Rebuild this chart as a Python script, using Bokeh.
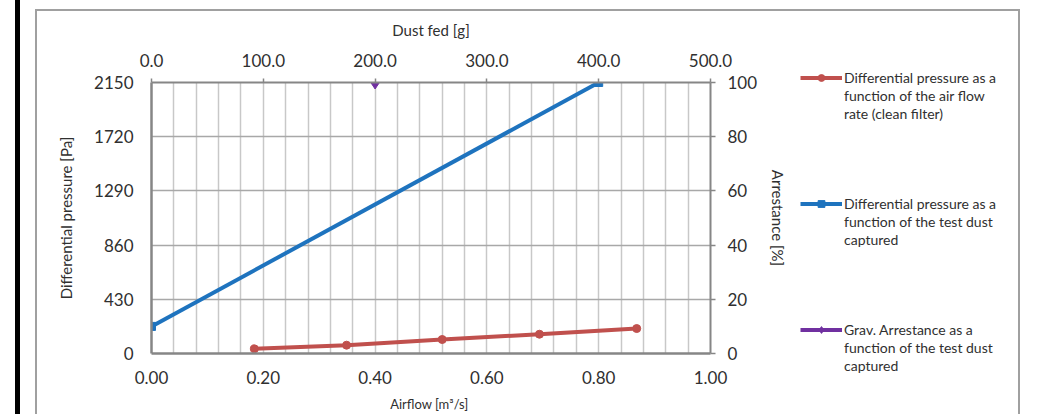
from bokeh.plotting import figure
from bokeh.layouts import row
from bokeh.models import (Range1d, LinearAxis, FixedTicker, NumeralTickFormatter,
                          Legend, LegendItem)
from bokeh.embed import file_html
from bokeh.resources import INLINE

# ---- data ----
airflow = [0.184, 0.349, 0.520, 0.694, 0.868]
dp_clean = [37, 66, 111, 153, 198]
dust_fed = [0, 400]
dp_dust = [215, 2150]
grav_dust = [200]
grav_arrestance = [100]

left_ticks = [0, 430, 860, 1290, 1720, 2150]
bottom_ticks = [0.0, 0.2, 0.4, 0.6, 0.8, 1.0]
top_ticks = [0, 100, 200, 300, 400, 500]
right_ticks = [0, 20, 40, 60, 80, 100]
vgrid_ticks = [0.04, 0.08, 0.12, 0.16, 0.20, 0.24, 0.28, 0.32, 0.36, 0.40, 0.44, 0.48,
               0.52, 0.56, 0.60, 0.64, 0.68, 0.72, 0.76, 0.80, 0.84, 0.88, 0.92, 0.96]

legend_lines = [
    ["Differential pressure as a", "function of the air flow", "rate (clean filter)"],
    ["Differential pressure as a", "function of the test dust", "captured"],
    ["Grav. Arrestance as a", "function of the test dust", "captured"],
]

RED = "#C0504D"
BLUE = "#1E73BE"
PURPLE = "#7030A0"
FONT = "Lato"
TXT = "#303030"
AX = "#868686"
FRAME = "#A0A0A0"

W1, W2, H = 790, 262, 414

p = figure(width=W1, height=H, output_backend="svg", toolbar_location=None,
           x_range=Range1d(0, 1), y_range=Range1d(0, 2150),
           min_border_left=151, min_border_right=W1 - 710, min_border_top=82,
           min_border_bottom=H - 354)
p.extra_x_ranges = {"dust": Range1d(0, 500)}
p.extra_y_ranges = {"arr": Range1d(0, 100)}
p.outline_line_color = None
p.background_fill_color = "white"
p.border_fill_alpha = 0
p.styles = {
    "background": (
        "linear-gradient(#000,#000) 15px 0px / 5px 100% no-repeat,"
        f"linear-gradient({FRAME},{FRAME}) 35px 9px / 2px 100% no-repeat,"
        f"linear-gradient({FRAME},{FRAME}) 35px 9px / 100% 2px no-repeat,"
        "#ffffff"
    )
}

def style_axis(ax, tick_out, title, title_size, title_standoff):
    ax.axis_line_color = AX
    ax.axis_line_width = 2.5
    ax.major_tick_in = 0
    ax.major_tick_out = tick_out
    ax.major_tick_line_color = AX
    ax.major_tick_line_width = 1.5
    ax.minor_tick_line_color = None
    ax.major_label_text_font = FONT
    ax.major_label_text_font_size = "17px"
    ax.major_label_text_color = TXT
    ax.axis_label = title
    ax.axis_label_text_font = FONT
    ax.axis_label_text_font_size = title_size
    ax.axis_label_text_font_style = "normal"
    ax.axis_label_text_color = TXT
    ax.axis_label_standoff = title_standoff

xb = p.xaxis[0]
xb.ticker = FixedTicker(ticks=bottom_ticks)
xb.formatter = NumeralTickFormatter(format="0.00")
style_axis(xb, 0, "Airflow  [m³/s]", "13px", 9)
xb.major_label_standoff = 17

yl = p.yaxis[0]
yl.ticker = FixedTicker(ticks=left_ticks)
style_axis(yl, 0, "Differential pressure [Pa]", "15px", 16)
yl.major_label_standoff = 18

xt = LinearAxis(x_range_name="dust", ticker=FixedTicker(ticks=top_ticks),
                formatter=NumeralTickFormatter(format="0.0"))
style_axis(xt, 4, "Dust fed [g]", "15px", 12)
xt.major_label_standoff = 12
xt.axis_line_width = 2
p.add_layout(xt, "above")

yr = LinearAxis(y_range_name="arr", ticker=FixedTicker(ticks=right_ticks))
style_axis(yr, 5, "Arrestance [%]", "15px", 9)
yr.major_label_standoff = 12
yr.axis_line_width = 2
p.add_layout(yr, "right")

p.xgrid.ticker = FixedTicker(ticks=vgrid_ticks)
p.xgrid.grid_line_color = "#C8C8C8"
p.xgrid.grid_line_width = 1.5
p.ygrid.ticker = FixedTicker(ticks=left_ticks[1:])
p.ygrid.grid_line_color = "#A8A8A8"
p.ygrid.grid_line_width = 1.5

p.line(airflow, dp_clean, line_color=RED, line_width=4)
p.scatter(airflow, dp_clean, marker="circle", size=8, color=RED)
p.line(dust_fed, dp_dust, x_range_name="dust", line_color=BLUE, line_width=4)
p.scatter(dust_fed, dp_dust, x_range_name="dust", marker="square", size=8, color=BLUE)
p.scatter(grav_dust, grav_arrestance, x_range_name="dust", y_range_name="arr",
          marker="diamond", size=13, color=PURPLE)

# ---- legend panel (second figure; its series lie outside its own ranges) ----
q = figure(width=W2, height=H, output_backend="svg", toolbar_location=None,
           x_range=Range1d(0, 1), y_range=Range1d(-1, 0),
           min_border=0, x_axis_location=None, y_axis_location=None)
q.grid.visible = False
q.outline_line_color = None
q.background_fill_alpha = 0
q.border_fill_alpha = 0
q.styles = {
    "background": (
        f"linear-gradient({FRAME},{FRAME}) 0px 9px / 230px 2px no-repeat,"
        f"linear-gradient({FRAME},{FRAME}) 228px 9px / 2px 100% no-repeat,"
        "#ffffff"
    )
}
aligned_off = False
if "frame_align" in q.properties():
    q.frame_align = False
    p.frame_align = False
    aligned_off = True

l1 = q.line(airflow, dp_clean, line_color=RED, line_width=4)
m1 = q.scatter(airflow, dp_clean, marker="circle", size=8, color=RED)
l2 = q.line(dust_fed, dp_dust, line_color=BLUE, line_width=4)
m2 = q.scatter(dust_fed, dp_dust, marker="square", size=8, color=BLUE)
l3 = q.line(dust_fed, dp_dust, line_color=PURPLE, line_width=4)
m3 = q.scatter(grav_dust, grav_arrestance, marker="diamond", size=10, color=PURPLE)

items = []
for gi, (lines, rends) in enumerate(zip(legend_lines, [[l1, m1], [l2, m2], [l3, m3]])):
    for li, t in enumerate(lines):
        items.append(LegendItem(label=t, renderers=rends if li == 0 else []))
    if gi < len(legend_lines) - 1:
        for _ in range(4):
            items.append(LegendItem(label=" ", renderers=[]))

lg = Legend(items=items, location=(10, 40 if aligned_off else -20),
            glyph_width=42, glyph_height=17, label_height=17, label_standoff=2,
            padding=0, margin=0, spacing=1,
            border_line_color=None, background_fill_alpha=0,
            label_text_font=FONT, label_text_font_size="14px",
            label_text_color=TXT)
q.add_layout(lg, "center")

open("out.html", "w").write(file_html(row(p, q), INLINE))
